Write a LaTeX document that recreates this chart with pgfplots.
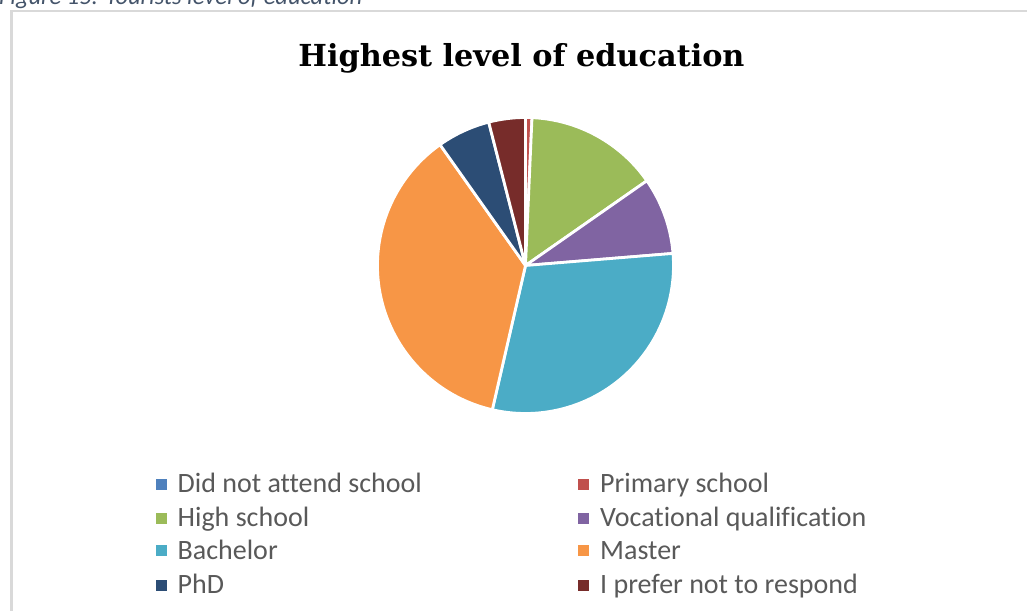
\documentclass[border=0pt]{standalone}
\usepackage{pgfplots}
\pgfplotsset{compat=1.18}
\usepackage{pgfplotstable}
\usepackage{fontspec}
\setmainfont{Carlito}[Ligatures={NoCommon}]
\newfontfamily\titlefont{DejaVu Serif}

\definecolor{cDid}{HTML}{4F81BD}
\definecolor{cPrim}{HTML}{C0504D}
\definecolor{cHigh}{HTML}{9BBB59}
\definecolor{cVoc}{HTML}{8064A2}
\definecolor{cBach}{HTML}{4BACC6}
\definecolor{cMast}{HTML}{F79646}
\definecolor{cPhD}{HTML}{2C4D75}
\definecolor{cPref}{HTML}{772C2A}
\definecolor{legtext}{HTML}{595959}
\definecolor{captext}{HTML}{44546A}
\definecolor{frame}{HTML}{D9D9D9}

% share of respondents (%), clockwise from 12 o'clock
\pgfplotstableread[col sep=comma]{
label,value,color
Did not attend school,0.0,cDid
Primary school,0.7,cPrim
High school,14.6,cHigh
Vocational qualification,8.4,cVoc
Bachelor,29.9,cBach
Master,36.6,cMast
PhD,5.8,cPhD
I prefer not to respond,4.0,cPref
}\edudata

\begin{document}
\begin{tikzpicture}[x=1pt,y=1pt]
\path[use as bounding box] (0pt,0pt) rectangle (1027pt,610pt);
\clip (0pt,0pt) rectangle (1027pt,610pt);

% caption (cut off at top) and frame
\node[anchor=base west, inner sep=0pt, text=captext] at (-1pt,605pt)
  {\fontsize{24.5}{28}\selectfont\itshape Figure 15: Tourists level of education};
\draw[frame, line width=2.5pt] (11.5pt,-20pt) -- (11.5pt,598.75pt) -- (1060pt,598.75pt);

% title
\node[anchor=base, inner sep=0pt] at (521.5pt,543.5pt)
  {\titlefont\bfseries\fontsize{30.3}{37}\selectfont Highest level of education};

\begin{axis}[at={(525.5pt,344.5pt)}, anchor=center, scale only axis,
  width=296pt, height=296pt, xmin=-1, xmax=1, ymin=-1, ymax=1,
  hide axis, clip=false]
\def\cum{0}
\pgfplotsforeachungrouped \i in {0,...,7}{%
  \pgfplotstablegetelem{\i}{value}\of\edudata \let\val\pgfplotsretval
  \pgfplotstablegetelem{\i}{color}\of\edudata \let\col\pgfplotsretval
  \pgfmathsetmacro\sa{90-3.6*\cum}%
  \pgfmathsetmacro\ea{90-3.6*(\cum+\val)}%
  \pgfmathsetmacro\xs{cos(\sa)}%
  \pgfmathsetmacro\ys{sin(\sa)}%
  \edef\temp{\noexpand\filldraw[fill=\col, draw=white, line width=2.8pt, line join=round]
    (axis cs:0,0) -- (axis cs:\xs,\ys) arc[start angle=\sa, end angle=\ea, radius=1] -- cycle;}%
  \temp
  \pgfmathsetmacro\cum{\cum+\val}%
}
\end{axis}

% legend
\def\legentry#1#2#3#4{%
  \fill[#3] (#1pt,#2pt+2.5pt) rectangle ++(11pt,11pt);
  \node[anchor=base west, inner sep=0pt, text=legtext] at (#1pt+22pt,#2pt)
    {\fontsize{28}{32}\selectfont #4};}
\legentry{155.5}{117}{cDid}{Did not attend school}
\legentry{578}{117}{cPrim}{Primary school}
\legentry{155.5}{83.5}{cHigh}{High school}
\legentry{578}{83.5}{cVoc}{Vocational qualification}
\legentry{155.5}{51}{cBach}{Bachelor}
\legentry{578}{51}{cMast}{Master}
\legentry{155.5}{17}{cPhD}{PhD}
\legentry{578}{17}{cPref}{I prefer not to respond}
\end{tikzpicture}
\end{document}
